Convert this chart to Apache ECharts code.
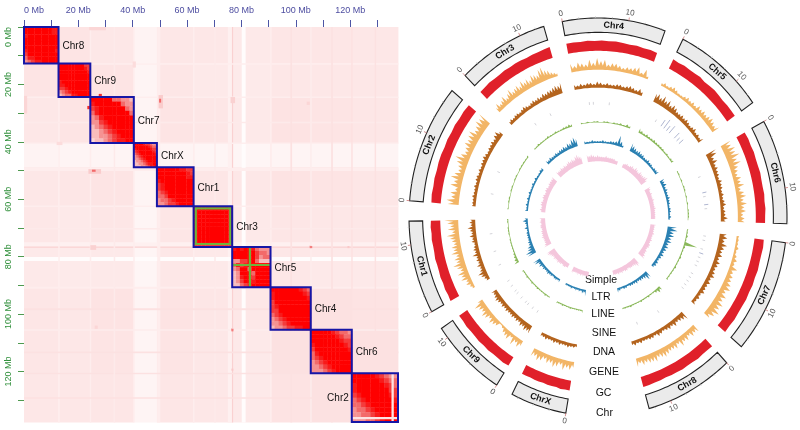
<!DOCTYPE html>
<html>
<head>
<meta charset="utf-8">
<title>Hi-C and genome tracks</title>
<script src="https://cdn.jsdelivr.net/npm/echarts@6/dist/echarts.min.js"></script>
<style>
html,body{margin:0;padding:0;background:#fff;}
#conMain{width:800px;height:430px;}
</style>
</head>
<body>
<div id="conMain"></div>
<script>
// ---------- Hi-C map data (Mb) ----------
var heatNames = ["Chr8","Chr9","Chr7","ChrX","Chr1","Chr3","Chr5","Chr4","Chr6","Chr2"];
var heatEdges = [0,12.7,24.4,40.4,48.9,62.4,76.6,90.7,105.5,120.6,137.6];
var heatTicks = [0,10,20,30,40,50,60,70,80,90,100,110,120,130];
var heatLabels = [0,20,40,60,80,100,120];

// contact level between two chromosomes, same order as heatNames
var pairLevels = [
	[0,2.1,1.9,1.1,1.9,1.9,1.8,2.0,2.0,1.9],
	[2.1,0,2.1,1.0,2.0,1.8,1.7,1.9,1.9,1.9],
	[1.9,2.1,0,1.0,2.1,2.0,1.8,2.2,2.1,2.0],
	[1.1,1.0,1.0,0,1.0,0.9,0.9,1.0,1.0,1.0],
	[1.9,2.0,2.1,1.0,0,2.0,1.9,2.2,2.1,2.0],
	[1.9,1.8,2.0,0.9,2.0,0,1.8,2.0,1.9,1.9],
	[1.8,1.7,1.8,0.9,1.9,1.8,0,1.9,1.8,1.8],
	[2.0,1.9,2.2,1.0,2.2,2.0,1.9,0,2.3,2.2],
	[2.0,1.9,2.1,1.0,2.1,1.9,1.8,2.3,0,2.3],
	[1.9,1.9,2.0,1.0,2.0,1.9,1.8,2.2,2.3,0]
];
// each row reads left to right, each digit is one cell of the block
var chr8Block = ["9999999988","9999999988","8999999999","9999999999","9999999999","9999999999","8999999998","7999999999","6889999999","5678899999"];
var chr9Block = ["9999999977","9999999987","9999999998","9999999999","9999999999","8999999999","8899999999","7789999999","5678999999","4566889999"];
var chr7Block = ["9999966554","8999999655","7899999965","6899999996","5689999999","5578999999","4567899999","4456789999","4455678999","3445678899"];
var chrXBlock = ["9999877655","9999998766","8999999877","7899999987","6789999998","5678999999","5567899999","4556789999","4455678899","4445567889"];
var chr1Block = ["9999998877","9999999987","9999999988","8999999999","7899999999","7899999999","6789999999","6679999999","5667899999","5567789999"];
var chr3Block = ["9999999998","9999999998","9999999998","9999999998","9999999998","9999999998","9999999998","9999999998","9999999998","7777777777"];
var chr5Block = ["8989986555","9999997665","9999997566","5577996444","6878999999","5699699999","4599969999","4589979999","4579989999","4467899999"];
var chr4Block = ["9999999876","8999999987","8999999998","7999999999","7899999999","7799999999","6789999999","5678999999","5567899999","4556778899"];
var chr6Block = ["9999987665","9999998766","9999999877","8999999987","7999999998","6899999999","6789999999","5678999999","5567899999","5556789999"];
var chr2Block = ["9999987655","9999998766","8999999876","8999999977","7899999987","6789999998","6678999999","5667899999","5566789999","5556678999"];
var heatBlocks = [chr8Block,chr9Block,chr7Block,chrXBlock,chr1Block,chr3Block,chr5Block,chr4Block,chr6Block,chr2Block];

// pale and dark lines through the map: from, to, level
var heatStripes = [
	[75,76.5,1.3],[80.1,81.4,0.3],[76.5,76.8,3.2],[12.6,13,1.4],[24.2,24.6,1.5],
	[40.2,40.6,1.4],[49,50,1.5],[62.2,62.6,1.5],[90.5,91,1.5],[105.3,105.7,1.6],
	[120.4,120.8,2.3],[33,33.4,1.7],[70,70.4,1.7],[98,98.5,2.3],[113,113.5,2.3],[129,129.4,2.3]
];
// spots away from the diagonal: x from, x to, y from, y to, level, mirrored over the diagonal
var heatSpots = [
	[27.5,28.5,23.3,24.1,7.5],[24,30,0,1,3],[49.5,51,23.7,28.2,3.4],[49.7,50.3,25,26.2,6],
	[76.3,77.1,25,25.8,6.5],[76,77.5,24.4,26.4,3.2],[104,105,26,27,3],[76.2,76.9,104.9,105.6,4],
	[119,119.6,76.3,76.9,3.5],[105.2,105.9,76.3,76.9,5.5],[28,32,25,34,2.4],[40,41,12,14,2.6]
];
var chr2Gaps = [[135.2,135.9,120.6,137.6],[120.6,137.6,135.9,136.5]];
// green assembly marks: x from, x to, y from, y to
var greenMarks = [
	[63.2,75.9,63.2,63.2],[63.2,75.9,75.6,75.6],[63.2,63.2,63.2,75.6],[75.9,75.9,63.2,75.6],
	[83.1,83.1,77.4,90.3],[77.2,90.3,82.9,82.9]
];

// ---------- circos data, clockwise from Chr4 ----------
var chrNames = ["Chr4","Chr5","Chr6","Chr7","Chr8","ChrX","Chr9","Chr1","Chr2","Chr3"];
var chrLengths = [15.6,13.9,15.1,16.4,13.4,8.5,11.6,13.4,17.1,13.8];
var chrStarts = [349.1,26.7,61.3,97.4,137.1,189.8,212.4,241.6,274.7,315.3];
var chrTicks = [0,2.5,5,7.5,10,12.5,15];
var chrTickLabels = [0,10];
var trackNames = ["Simple","LTR","LINE","SINE","DNA","GENE","GC","Chr"];

var gcTrack = [
	[10,10,9.5,10,9.5,10,9.5,10,9.5,9,9.5,9,9.5,9],
	[10,9.5,10,9.5,9.5,10,9,9.5,10,9.5,9,9.5,9.5,9.5],
	[9.5,10,9.5,10,9.5,9.5,10,9.5,9.5,10,9.5,10,9.5,9.5],
	[9.5,10,9.5,9.5,10,9.5,10,9.5,10,9.5,9.5,10,9.5,10],
	[10,9.5,9.5,10,9.5,9.5,10,9.5,9.5,9,9.5,9.5,10,10],
	[9.5,9.5,10,9,9.5,9.5,9,9.5,9.5,9,9.5,9.5],
	[9.5,10,9.5,9.5,10,9.5,10,9.5,9.5,10,9.5,10],
	[10,9.5,10,9.5,10,9.5,9.5,10,9.5,9.5,10,9.5,10,9.5],
	[9.5,10,9.5,10,9.5,10,10,9.5,10,9.5,10,9.5,10,9.5],
	[9.5,9.5,10,9.5,9.5,10,9.5,10,10,9.5,10,10,10.5,11]
];
var geneTrack = [
	[5,3,5,4,3,6,4,7,5,6,3,4,4,3,2,3,3,4,5,2,5,1],
	[1,2,1,2,3,2,1,1,2,3,2,3,2,4,3,4,3,4,5,4,3,5],
	[7,6,8,7,9,6,8,5,4,3,5,4,6,3,5,6,4,6,4,5,3,4,4],
	[1,1,1,2,1,2,3,2,5,3,4,4,5,6,4,6,5,7,6,8,6,4],
	[5,4,5,3,5,4,6,3,5,4,4,5,6,5,4,6,5,5,4,5,3,5],
	[3,5,4,6,3,5,6,4,5,3,5,6,4,5],
	[3,5,3,6,2,5,4,3,1,0,3,4,5,3,5,6,4,5,7,3],
	[1,2,4,3,6,5,7,4,6,8,5,6,4,7,5,6,4,5,6,8,4,7,5,7,9],
	[7,8,5,6,3,7,5,8,6,4,5,7,9,6,4,5,7,6,7,8,5,6,8,7,9],
	[3,5,3,4,6,3,5,7,4,5,6,4,7,5,6,4,7,6,5,8,9,6,5,3,2,1]
];
var dnaTrack = [
	[3,2,3,2,3,3,2,4,3,2,3,2,2,3,3,2,3,4,3,2,4,2],
	[6,7,5,8,5,7,4,6,5,3,3,4,3,4,3,2,3,4,2,3,2,4],
	[9,8,4,6,3,4,3,3,2,4,3,3,2,3,2,3,4,2,3,3,5,3],
	[5,6,4,7,5,4,5,3,5,4,3,4,5,3,4,3,3,4,2,3,2,3],
	[7,5,4,3,5,3,4,3,2,3,4,2,3,3,2,2,3,2,3,2],
	[1,2,2,3,2,2,3,2,3,2,2,3,2,2],
	[6,5,6,4,5,3,4,3,4,3,3,4,3,4,3,4,5,4,3,4],
	[2,3,5,7,4,3,5,3,4,3,6,3,4,3,2,4,3,5,3,4,6,3,4,3],
	[2,2,2,3,2,2,3,2,3,3,2,3,2,3,3,4,3,2,3,3,4,3,5,6,3],
	[2,3,2,3,3,2,3,4,3,2,3,4,3,4,3,5,4,5,5,6,7,6,8]
];
var sineTrack = [
	[0,0,0,1,1,0,0,0,1,0,0,0,0,0,0,0],
	[0,0,0,1,0,4,6,3,5,0,4,2,3,0,0,0],
	[0,0,0,0,1,0,0,0,2,1,0,2,1,0,0,0],
	[0,1,1,0,1,2,1,1,1,0,1,1,1,1,1,0],
	[0,0,0,0,0,1,0,0,0,0,0,0,1,0,0,0],
	[0,0,0,0,0,0,0,0,0,0,0,0,0,0,0,0],
	[0,1,0,1,0,1,1,0,1,0,1,1,0,1,0,1],
	[0,0,1,0,0,0,1,0,0,0,0,1,0,0,0,0],
	[0,0,0,1,0,0,0,0,1,0,0,0,0,0,0,0],
	[0,0,0,0,0,1,0,0,0,0,1,0,0,0,0,0]
];
var lineTrack = [
	[1,0,1,0,1,1,0,1,1,0,1,1,2,1,3,2],
	[5,3,2,3,2,2,3,2,2,2,2,1,2,1,2,3],
	[1,1,0,1,0,1,1,0,1,0,1,0,1,1,1,0],
	[1,1,2,1,17,2,1,1,2,1,1,2,1,1,1,2],
	[5,6,3,1,1,2,1,1,2,1,1,1,2,1,1,1],
	[3,1,1,1,1,1,2,1,1,1,2,1,1,2],
	[1,1,2,1,1,1,2,1,1,2,1,1,2,1,1,2],
	[6,4,3,2,1,1,1,1,1,0,1,1,1,0,1,1],
	[1,0,1,1,0,1,1,0,1,1,0,1,1,1,1,2],
	[1,1,2,1,1,1,2,1,1,2,1,1,2,2,3,2]
];
var ltrTrack = [
	[2,1,1,2,1,1,1,2,1,1,2,2,3,9,4,1],
	[7,5,4,3,4,3,3,2,2,3,2,2,1,2,2,3],
	[4,3,4,2,3,2,2,3,2,2,1,2,2,1,2,1],
	[8,9,6,7,5,6,4,5,4,3,4,3,2,3,3,2],
	[6,7,4,3,3,2,3,2,2,2,1,2,2,1,2,3],
	[5,2,3,1,2,1,2,1,1,2,1,1,1,1],
	[2,1,2,2,1,2,2,3,2,2,3,2,4,3,6,7],
	[8,9,6,5,3,3,2,2,2,2,1,3,1,2,4,2],
	[2,1,2,1,2,1,2,1,1,2,1,2,1,1,2,2],
	[3,2,3,2,2,3,2,3,3,4,3,5,4,7,8,6]
];
var simpleTrack = [
	[4,3,4,3,2,3,2,2,2,3,2,2,2,2,1,1],
	[1,2,3,2,3,4,3,5,4,3,5,4,4,5,6,4],
	[4,3,2,3,2,2,3,2,2,2,3,2,2,2,2,2],
	[3,2,2,2,3,2,2,3,2,3,3,2,3,3,4,5],
	[5,6,4,3,3,3,2,3,3,2,3,2,3,2,2,2],
	[3,3,2,2,3,2,3,2,3,2,2,2,3,3],
	[2,2,3,3,2,3,3,4,3,3,4,3,4,5,6,6],
	[5,4,3,3,3,4,3,3,3,2,3,3,2,3,2,3],
	[2,3,2,3,3,2,3,3,2,3,3,2,3,3,3,4],
	[4,3,3,4,3,4,3,4,5,4,5,4,6,7,5,4]
];

var FONT = '"Liberation Sans", Arial, sans-serif';
var DEG_PER_MB = 2.03;

// ---------- Hi-C rows: x from, x to, y from, y to, level ----------
var heatRows = [];
var i, j, k;
for (i = 0; i < 10; i++) {
	for (j = 0; j < 10; j++) {
		if (i != j) heatRows.push([heatEdges[j],heatEdges[j+1],heatEdges[i],heatEdges[i+1],pairLevels[i][j]]);
	}
}
heatStripes.forEach(function(s){
	heatRows.push([s[0],s[1],0,137.6,s[2]]);
	heatRows.push([0,137.6,s[0],s[1],s[2]]);
});
heatSpots.forEach(function(s){
	heatRows.push([s[0],s[1],s[2],s[3],s[4]]);
	heatRows.push([s[2],s[3],s[0],s[1],s[4]]);
});
for (k = 0; k < 10; k++) {
	var rows = heatBlocks[k];
	var cw = (heatEdges[k+1]-heatEdges[k])/10;
	for (i = 0; i < 10; i++) {
		for (j = 0; j < 10; j++) {
			heatRows.push([heatEdges[k]+j*cw,heatEdges[k]+(j+1)*cw,heatEdges[k]+i*cw,heatEdges[k]+(i+1)*cw,+rows[i].charAt(j)]);
		}
	}
}
chr2Gaps.forEach(function(g){ heatRows.push([g[0],g[1],g[2],g[3],2.2]); });

function heatCell(params, api){
	var a = api.coord([api.value(0),api.value(2)]);
	var b = api.coord([api.value(1),api.value(3)]);
	return {type:"rect",shape:{x:a[0],y:a[1],width:b[0]-a[0]+0.4,height:b[1]-a[1]+0.4},style:{fill:api.visual("color")}};
}
function greenMark(params, api){
	var a = api.coord([api.value(0),api.value(2)]);
	var b = api.coord([api.value(1),api.value(3)]);
	return {type:"line",shape:{x1:a[0],y1:a[1],x2:b[0],y2:b[1]},style:{stroke:"#6fb43c",lineWidth:2.2,lineCap:"square"}};
}
function heatBox(params, api){
	var n = api.value(0);
	var a = api.coord([heatEdges[n],heatEdges[n]]);
	var b = api.coord([heatEdges[n+1],heatEdges[n+1]]);
	var isLast = heatNames[n] == "Chr2";
	return {type:"group",children:[
		{type:"rect",shape:{x:a[0],y:a[1],width:b[0]-a[0],height:b[1]-a[1]},style:{fill:"none",stroke:"#1616a6",lineWidth:2}},
		{type:"text",x:isLast?a[0]-3:b[0]+4,y:(a[1]+b[1])/2+1,style:{text:heatNames[n],fill:"#111",font:"10px "+FONT,align:isLast?"right":"left",verticalAlign:"middle"}}
	]};
}

// ---------- circos helpers, the grid is 378x398 so rings come out slightly oval ----------
function ringPoint(api, deg, r){
	var t = deg*Math.PI/180;
	return api.coord([r*Math.sin(t),r*Math.cos(t)]);
}
function tangentRotation(deg){
	var d = (deg+360)%360;
	var ccw = (d > 90 && d < 270) ? 180-d : -d;
	return ccw*Math.PI/180;
}
function arcPoints(api, from, to, r){
	var pts = [];
	var n = Math.max(2,Math.ceil(Math.abs(to-from)));
	for (var q = 0; q <= n; q++) pts.push(ringPoint(api,from+(to-from)*q/n,r));
	return pts;
}
function chrBand(params, api){
	var c = api.value(0);
	var start = chrStarts[c], len = chrLengths[c], span = len*DEG_PER_MB;
	var pts = arcPoints(api,start,start+span,1).concat(arcPoints(api,start+span,start,0.928));
	var mid = start+span/2;
	var lab = ringPoint(api,mid,0.964);
	var kids = [
		{type:"polygon",shape:{points:pts},style:{fill:"#ebebeb",stroke:"#222",lineWidth:1.1}},
		{type:"text",x:lab[0],y:lab[1],rotation:tangentRotation(mid),style:{text:chrNames[c],fill:"#111",font:"bold 9px "+FONT,align:"center",verticalAlign:"middle"}}
	];
	chrTicks.forEach(function(t){
		if (t > len) return;
		var major = chrTickLabels.indexOf(t) >= 0;
		var deg = start+t*DEG_PER_MB;
		var p0 = ringPoint(api,deg,1), p1 = ringPoint(api,deg,major?1.016:1.008);
		kids.push({type:"line",shape:{x1:p0[0],y1:p0[1],x2:p1[0],y2:p1[1]},style:{stroke:major?"#c77":"#bbb",lineWidth:0.8}});
		if (major) {
			var p2 = ringPoint(api,deg,1.04);
			kids.push({type:"text",x:p2[0],y:p2[1],rotation:tangentRotation(deg),style:{text:String(t),fill:"#555",font:"8px "+FONT,align:"center",verticalAlign:"middle"}});
		}
	});
	return {type:"group",children:kids};
}
// sharp tip at every bin, dropping back towards the baseline between bins
function areaTrack(values, base, unit, thick, color, sharp){
	return function(params, api){
		var c = api.value(0), vals = values[c];
		var start = chrStarts[c], span = chrLengths[c]*DEG_PER_MB;
		var step = span/(vals.length-1);
		var pts = [];
		vals.forEach(function(v, q){
			pts.push(ringPoint(api,start+step*q,base+thick+unit*v));
			if (sharp && q < vals.length-1) {
				pts.push(ringPoint(api,start+step*(q+0.5),base+thick+unit*sharp*Math.min(v,vals[q+1])));
			}
		});
		pts = pts.concat(arcPoints(api,start+span,start,base));
		return {type:"polygon",shape:{points:pts},style:{fill:color}};
	};
}
function sineSpikes(params, api){
	var c = api.value(0), vals = sineTrack[c];
	var start = chrStarts[c], span = chrLengths[c]*DEG_PER_MB;
	var kids = [];
	vals.forEach(function(v, q){
		if (!v) return;
		var deg = start+span*q/(vals.length-1);
		var p0 = ringPoint(api,deg,0.565), p1 = ringPoint(api,deg,0.565+0.006+0.008*v);
		kids.push({type:"line",shape:{x1:p0[0],y1:p0[1],x2:p1[0],y2:p1[1]},style:{stroke:v > 1 ? "#9aa3c4" : "#c9c9cf",lineWidth:0.8}});
	});
	return {type:"group",children:kids};
}
function circosSeries(fn){
	return {type:"custom",xAxisIndex:1,yAxisIndex:1,silent:true,animation:false,clip:false,renderItem:fn,data:chrRows};
}
var chrRows = chrNames.map(function(n, q){ return [q,0]; });
var heatIndex = heatNames.map(function(n, q){ return [q,0]; });

var option = {
	animation:false,
	backgroundColor:"#fff",
	textStyle:{fontFamily:FONT},
	grid:[
		{left:24,top:27,width:374,height:395,containLabel:false},
		{left:409,top:18,width:378,height:398,containLabel:false}
	],
	xAxis:[
		{type:"value",gridIndex:0,position:"top",min:0,max:137.6,offset:2,splitLine:{show:false},axisLine:{show:false},
			axisTick:{length:7,customValues:heatTicks,lineStyle:{color:"#4d55a5",width:1}},
			axisLabel:{customValues:heatLabels,alignMinLabel:"left",margin:10,fontSize:9,color:"#4d4da0",formatter:"{value} Mb"}},
		{type:"value",gridIndex:1,min:-1,max:1,show:false}
	],
	yAxis:[
		{type:"value",gridIndex:0,inverse:true,min:0,max:137.6,offset:2,splitLine:{show:false},axisLine:{show:false},
			axisTick:{length:6,customValues:heatTicks,lineStyle:{color:"#4f9a4f",width:1}},
			axisLabel:{customValues:heatLabels,rotate:90,margin:9,fontSize:9,color:"#2f8f3a",alignMinLabel:"right",formatter:"{value} Mb"}},
		{type:"value",gridIndex:1,min:-1,max:1,show:false}
	],
	visualMap:{show:false,seriesIndex:0,dimension:4,min:0,max:9,
		inRange:{color:["#ffffff","#fef4f4","#fde6e6","#fbd6d6","#f8bcbc","#f59292","#f36a6a","#f43c3c","#f81a1a","#ff0000"]}},
	series:[
		{type:"custom",xAxisIndex:0,yAxisIndex:0,silent:true,animation:false,renderItem:heatCell,encode:{x:[0,1],y:[2,3]},data:heatRows},
		{type:"custom",xAxisIndex:0,yAxisIndex:0,silent:true,animation:false,renderItem:greenMark,encode:{x:[0,1],y:[2,3]},data:greenMarks},
		{type:"custom",xAxisIndex:0,yAxisIndex:0,silent:true,animation:false,clip:false,renderItem:heatBox,data:heatIndex},
		circosSeries(chrBand),
		circosSeries(areaTrack(gcTrack,0.835,0.0052,0,"#e0202a",0)),
		circosSeries(areaTrack(geneTrack,0.74,0.0075,0.006,"#f2b566",0.4)),
		circosSeries(areaTrack(dnaTrack,0.65,0.0058,0.008,"#b4641e",0.4)),
		circosSeries(sineSpikes),
		circosSeries(areaTrack(lineTrack,0.475,0.004,0.003,"#8ab85a",0.3)),
		circosSeries(areaTrack(ltrTrack,0.372,0.0055,0.005,"#2a80b2",0.3)),
		circosSeries(areaTrack(simpleTrack,0.28,0.006,0.013,"#f4c6dc",0.5))
	],
	graphic:trackNames.map(function(name, q){
		var cx = [601,601,603,604,604,604,603.5,604.5][q];
		var cy = [280,297,314,333,352,372,393,413][q];
		return {type:"text",x:cx,y:cy,silent:true,style:{text:name,fill:"#111",font:"10.5px "+FONT,align:"center",verticalAlign:"middle"}};
	})
};
var myChart = echarts.init(document.getElementById("conMain"));
myChart.setOption(option);
</script>
</body>
</html>
